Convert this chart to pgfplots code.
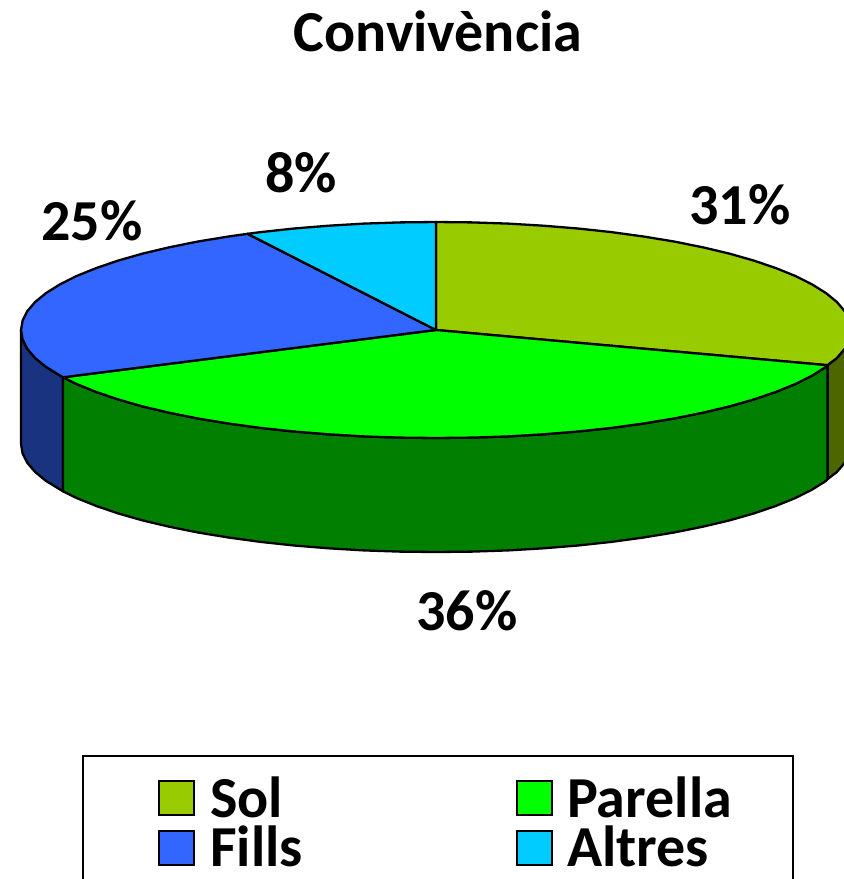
\documentclass[border=0pt]{standalone}
\usepackage{pgfplots}
\pgfplotsset{compat=1.18}
\usepackage{fontspec}
\setmainfont{Carlito}
\definecolor{csol}{HTML}{99CC00}
\definecolor{cpar}{HTML}{00FF00}
\definecolor{cfil}{HTML}{3366FF}
\definecolor{calt}{HTML}{00CCFF}
\definecolor{dsol}{HTML}{4D6600}
\definecolor{dpar}{HTML}{007F00}
\definecolor{dfil}{HTML}{1A3380}
\newcommand{\bigtxt}[1]{\fontsize{#1}{#1}\selectfont\bfseries}
\begin{document}
\begin{tikzpicture}
\path[use as bounding box] (0,0) rectangle (844pt,879pt);
\begin{axis}[
  at={(0,0)}, anchor=south west,
  scale only axis, width=844pt, height=879pt,
  xmin=0, xmax=844, ymin=0, ymax=879, y dir=reverse,
  axis lines=none,
  pie/.style={draw=black, line width=2.3pt, line join=round}]
% sides
\addplot[pie, fill=dfil] coordinates {(63,377.3)(46,366.9)(35.1,358)(27.3,348.8)(22.6,339.4)(21,330)(21,444)(22.6,453.4)(27.3,462.8)(35.1,472)(46,480.9)(63,491.3)} --cycle;
\addplot[pie, fill=dsol] coordinates {(827.4,365.2)(836.9,358)(844.7,348.8)(849.4,339.4)(851,330)(851,444)(849.4,453.4)(844.7,462.8)(836.9,472)(827.4,479.2)} --cycle;
\addplot[pie, fill=dpar] coordinates {(827.4,365.2)(826,366.9)(812.1,375.6)(795.4,384)(775.9,391.9)(753.9,399.4)(729.4,406.4)(702.8,412.7)(674,418.5)(643.5,423.5)(611.4,427.9)(577.9,431.5)(543.4,434.3)(508.1,436.4)(472.2,437.6)(436,438)(399.8,437.6)(363.9,436.4)(328.6,434.3)(294.1,431.5)(260.6,427.9)(228.5,423.5)(198,418.5)(169.2,412.7)(142.6,406.4)(118.1,399.4)(96.1,391.9)(76.6,384)(63,377.3)
(63,491.3)(76.6,498)(96.1,505.9)(118.1,513.4)(142.6,520.4)(169.2,526.7)(198,532.5)(228.5,537.5)(260.6,541.9)(294.1,545.5)(328.6,548.3)(363.9,550.4)(399.8,551.6)(436,552)(472.2,551.6)(508.1,550.4)(543.4,548.3)(577.9,545.5)(611.4,541.9)(643.5,537.5)(674,532.5)(702.8,526.7)(729.4,520.4)(753.9,513.4)(775.9,505.9)(795.4,498)(812.1,489.6)(826,480.9)(827.4,479.2)} --cycle;
% top faces
\addplot[pie, fill=csol] coordinates {(436,330)(436,222)(472.2,222.4)(508.1,223.6)(543.4,225.7)(577.9,228.5)(611.4,232.1)(643.5,236.5)(674,241.5)(702.8,247.3)(729.4,253.6)(753.9,260.6)(775.9,268.1)(795.4,276)(812.1,284.4)(826,293.1)(836.9,302)(844.7,311.2)(849.4,320.6)(851,330)(849.4,339.4)(844.7,348.8)(836.9,358)(827.4,365.2)} --cycle;
\addplot[pie, fill=cpar] coordinates {(436,330)(827.4,365.2)(826,366.9)(812.1,375.6)(795.4,384)(775.9,391.9)(753.9,399.4)(729.4,406.4)(702.8,412.7)(674,418.5)(643.5,423.5)(611.4,427.9)(577.9,431.5)(543.4,434.3)(508.1,436.4)(472.2,437.6)(436,438)(399.8,437.6)(363.9,436.4)(328.6,434.3)(294.1,431.5)(260.6,427.9)(228.5,423.5)(198,418.5)(169.2,412.7)(142.6,406.4)(118.1,399.4)(96.1,391.9)(76.6,384)(63,377.3)} --cycle;
\addplot[pie, fill=cfil] coordinates {(436,330)(63,377.3)(46,366.9)(35.1,358)(27.3,348.8)(22.6,339.4)(21,330)(22.6,320.6)(27.3,311.2)(35.1,302)(46,293.1)(59.9,284.4)(76.6,276)(96.1,268.1)(118.1,260.6)(142.6,253.6)(169.2,247.3)(198,241.5)(228.5,236.5)(247.6,233.8)} --cycle;
\addplot[pie, fill=calt] coordinates {(436,330)(247.6,233.8)(260.6,232.1)(294.1,228.5)(328.6,225.7)(363.9,223.6)(399.8,222.4)(436,222)} --cycle;
% legend
\addplot[draw=black, line width=1.5pt, fill=white] coordinates {(83,756)(793,756)(793,900)(83,900)} --cycle;
\addplot[draw=black, line width=1.8pt, fill=csol] coordinates {(159,781)(194,781)(194,815)(159,815)} --cycle;
\addplot[draw=black, line width=1.8pt, fill=cpar] coordinates {(517,781)(552,781)(552,815)(517,815)} --cycle;
\addplot[draw=black, line width=1.8pt, fill=cfil] coordinates {(159,831)(194,831)(194,865)(159,865)} --cycle;
\addplot[draw=black, line width=1.8pt, fill=calt] coordinates {(517,831)(552,831)(552,865)(517,865)} --cycle;
% text
\node[anchor=base, inner sep=0pt] at (axis cs:438,51) {\bigtxt{58}Convivència};
\node[anchor=base, inner sep=0pt] at (axis cs:301,192) {\bigtxt{58}8\%};
\node[anchor=base, inner sep=0pt] at (axis cs:740,224) {\bigtxt{58}31\%};
\node[anchor=base, inner sep=0pt] at (axis cs:92,240) {\bigtxt{58}25\%};
\node[anchor=base, inner sep=0pt] at (axis cs:467,630) {\bigtxt{58}36\%};
\node[anchor=base west, inner sep=0pt] at (axis cs:210,817) {\bigtxt{58}Sol};
\node[anchor=base west, inner sep=0pt] at (axis cs:567,817) {\bigtxt{58}Parella};
\node[anchor=base west, inner sep=0pt] at (axis cs:210,866) {\bigtxt{58}Fills};
\node[anchor=base west, inner sep=0pt] at (axis cs:567,866) {\bigtxt{58}Altres};
\end{axis}
\end{tikzpicture}
\end{document}
